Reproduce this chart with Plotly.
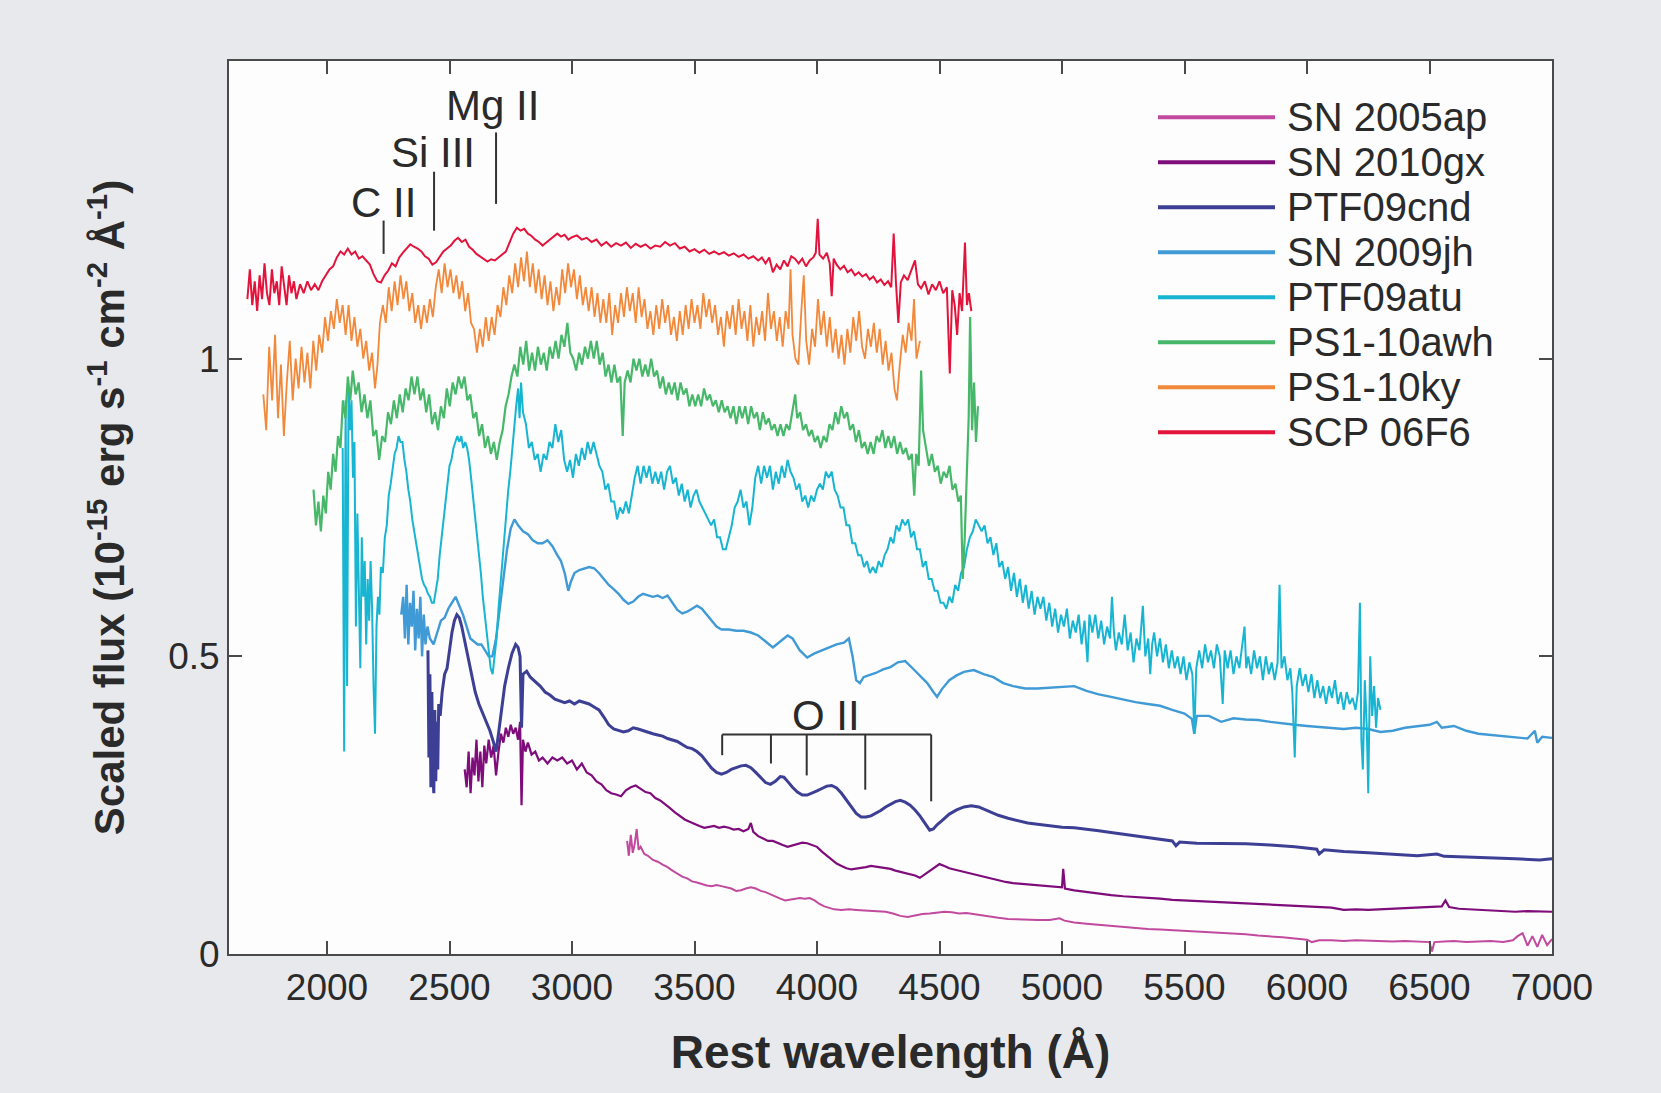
import plotly.graph_objects as go

# ---------------- data (rest wavelength in Angstrom, scaled flux) ----------------
names = ["SN 2005ap", "SN 2010gx", "PTF09cnd", "SN 2009jh",
         "PTF09atu", "PS1-10awh", "PS1-10ky", "SCP 06F6"]
colors = ["#c24a9e", "#7e0c7a", "#3d3f94", "#3f9ad6",
          "#17b5d2", "#47b86a", "#f2883a", "#e3143c"]

sn2005ap = [
    (3225, 0.19), (3232, 0.165), (3240, 0.20), (3248, 0.17), (3256, 0.185), (3264, 0.21),
    (3272, 0.175), (3280, 0.18), (3295, 0.168), (3310, 0.165), (3330, 0.158), (3350, 0.155),
    (3370, 0.15), (3390, 0.146), (3410, 0.14), (3430, 0.135), (3450, 0.13), (3470, 0.127),
    (3490, 0.122), (3510, 0.12), (3530, 0.117), (3550, 0.115), (3570, 0.114), (3590, 0.116),
    (3610, 0.114), (3630, 0.112), (3650, 0.11), (3670, 0.106), (3690, 0.107), (3710, 0.11),
    (3730, 0.112), (3750, 0.11), (3770, 0.106), (3790, 0.104), (3810, 0.10), (3830, 0.096),
    (3850, 0.093), (3870, 0.09), (3890, 0.091), (3910, 0.093), (3930, 0.094), (3950, 0.093),
    (3970, 0.094), (3990, 0.09), (4010, 0.084), (4030, 0.08), (4050, 0.077), (4070, 0.075),
    (4100, 0.074), (4130, 0.075), (4160, 0.074), (4190, 0.073), (4220, 0.073), (4250, 0.072),
    (4280, 0.071), (4310, 0.068), (4340, 0.064), (4370, 0.062), (4400, 0.065), (4430, 0.067),
    (4460, 0.068), (4490, 0.07), (4520, 0.071), (4550, 0.07), (4580, 0.068), (4610, 0.069),
    (4640, 0.067), (4670, 0.065), (4700, 0.063), (4740, 0.061), (4780, 0.059), (4820, 0.058),
    (4860, 0.057), (4900, 0.057), (4950, 0.057), (4990, 0.06), (5010, 0.056), (5050, 0.053),
    (5100, 0.051), (5150, 0.049), (5200, 0.047), (5250, 0.045), (5300, 0.043), (5350, 0.042),
    (5400, 0.041), (5450, 0.04), (5500, 0.038), (5550, 0.037), (5600, 0.036), (5650, 0.036),
    (5700, 0.034), (5750, 0.033), (5800, 0.031), (5850, 0.03), (5900, 0.028), (5950, 0.026),
    (6000, 0.024), (6020, 0.02), (6050, 0.023), (6100, 0.023), (6150, 0.022), (6200, 0.023),
    (6250, 0.022), (6300, 0.022), (6350, 0.021), (6400, 0.022), (6450, 0.021), (6500, 0.02),
    (6510, 0.004), (6520, 0.02), (6560, 0.021), (6600, 0.022), (6650, 0.02), (6700, 0.021),
    (6750, 0.022), (6800, 0.02), (6840, 0.023), (6860, 0.03), (6880, 0.035), (6900, 0.014),
    (6920, 0.03), (6940, 0.012), (6960, 0.032), (6980, 0.015), (7000, 0.025),
]

sn2010gx = [
    (2562, 0.31), (2570, 0.28), (2578, 0.34), (2586, 0.27), (2594, 0.33), (2602, 0.30),
    (2610, 0.36), (2618, 0.29), (2626, 0.34), (2634, 0.28), (2642, 0.35), (2650, 0.32),
    (2660, 0.36), (2670, 0.33), (2680, 0.35), (2690, 0.30), (2700, 0.34), (2710, 0.37),
    (2720, 0.355), (2730, 0.38), (2740, 0.365), (2750, 0.385), (2760, 0.37), (2770, 0.38),
    (2780, 0.36), (2788, 0.39), (2794, 0.25), (2800, 0.36), (2810, 0.34), (2820, 0.355),
    (2835, 0.335), (2850, 0.34), (2865, 0.325), (2880, 0.33), (2900, 0.32), (2920, 0.33),
    (2940, 0.325), (2960, 0.33), (2980, 0.32), (3000, 0.325), (3020, 0.31), (3040, 0.32),
    (3060, 0.305), (3080, 0.30), (3100, 0.29), (3120, 0.285), (3140, 0.275), (3160, 0.27),
    (3180, 0.268), (3200, 0.265), (3220, 0.275), (3240, 0.28), (3260, 0.283), (3280, 0.277),
    (3300, 0.272), (3320, 0.27), (3340, 0.262), (3360, 0.258), (3380, 0.252), (3400, 0.245),
    (3420, 0.238), (3440, 0.232), (3460, 0.226), (3480, 0.222), (3500, 0.218), (3520, 0.215),
    (3540, 0.212), (3560, 0.214), (3580, 0.215), (3600, 0.212), (3620, 0.214), (3640, 0.212),
    (3660, 0.209), (3680, 0.21), (3700, 0.206), (3720, 0.21), (3730, 0.22), (3740, 0.205),
    (3760, 0.198), (3780, 0.194), (3800, 0.19), (3820, 0.19), (3840, 0.186), (3860, 0.183),
    (3880, 0.18), (3900, 0.182), (3920, 0.185), (3940, 0.187), (3960, 0.186), (3980, 0.183),
    (4000, 0.18), (4020, 0.172), (4040, 0.165), (4060, 0.158), (4080, 0.152), (4100, 0.148),
    (4120, 0.144), (4140, 0.142), (4160, 0.143), (4180, 0.145), (4200, 0.146), (4220, 0.148),
    (4240, 0.147), (4260, 0.146), (4280, 0.145), (4300, 0.143), (4320, 0.14), (4340, 0.138),
    (4360, 0.135), (4380, 0.133), (4400, 0.132), (4420, 0.128), (4440, 0.134), (4460, 0.14),
    (4480, 0.146), (4500, 0.151), (4520, 0.148), (4540, 0.144), (4560, 0.142), (4580, 0.14),
    (4600, 0.138), (4620, 0.136), (4650, 0.133), (4680, 0.13), (4710, 0.126), (4740, 0.123),
    (4770, 0.121), (4800, 0.119), (4830, 0.118), (4860, 0.116), (4890, 0.115), (4920, 0.114),
    (4950, 0.113), (4980, 0.112), (5000, 0.112), (5005, 0.143), (5012, 0.11), (5050, 0.107),
    (5100, 0.104), (5150, 0.101), (5200, 0.099), (5250, 0.097), (5300, 0.096), (5350, 0.094),
    (5400, 0.093), (5450, 0.091), (5500, 0.09), (5550, 0.089), (5600, 0.088), (5650, 0.087),
    (5700, 0.086), (5750, 0.085), (5800, 0.084), (5850, 0.083), (5900, 0.082), (5950, 0.081),
    (6000, 0.08), (6050, 0.079), (6100, 0.078), (6150, 0.074), (6200, 0.075), (6250, 0.074),
    (6300, 0.075), (6350, 0.076), (6400, 0.077), (6450, 0.078), (6500, 0.078), (6550, 0.08),
    (6565, 0.09), (6580, 0.079), (6620, 0.076), (6680, 0.075), (6750, 0.073), (6800, 0.072),
    (6850, 0.071), (6900, 0.072), (6950, 0.071), (7000, 0.071),
]

ptf09cnd = [
    (2412, 0.51), (2416, 0.33), (2420, 0.47), (2424, 0.28), (2428, 0.44), (2432, 0.30),
    (2436, 0.27), (2440, 0.41), (2444, 0.29), (2448, 0.39), (2452, 0.31), (2456, 0.42),
    (2462, 0.40), (2470, 0.44), (2480, 0.47), (2490, 0.48),
    (2500, 0.51), (2510, 0.54), (2520, 0.56), (2530, 0.57), (2540, 0.565), (2550, 0.55),
    (2560, 0.53), (2575, 0.50), (2590, 0.47), (2605, 0.44), (2620, 0.42), (2635, 0.405),
    (2650, 0.39), (2665, 0.375), (2680, 0.355), (2690, 0.34), (2700, 0.37), (2712, 0.41),
    (2725, 0.45), (2740, 0.48), (2755, 0.505), (2770, 0.52), (2780, 0.515), (2788, 0.50),
    (2794, 0.38), (2800, 0.47), (2815, 0.475), (2830, 0.465), (2850, 0.458), (2870, 0.45),
    (2890, 0.44), (2910, 0.435), (2930, 0.428), (2950, 0.425), (2970, 0.422), (2990, 0.425),
    (3010, 0.42), (3030, 0.425), (3050, 0.422), (3070, 0.42), (3090, 0.415), (3110, 0.41),
    (3130, 0.398), (3150, 0.385), (3170, 0.378), (3190, 0.375), (3210, 0.373), (3230, 0.375),
    (3250, 0.38), (3270, 0.378), (3290, 0.375), (3310, 0.372), (3330, 0.37), (3350, 0.368),
    (3370, 0.366), (3390, 0.362), (3410, 0.36), (3430, 0.357), (3450, 0.352), (3470, 0.347),
    (3490, 0.345), (3510, 0.34), (3530, 0.333), (3550, 0.322), (3570, 0.312), (3590, 0.305),
    (3610, 0.302), (3630, 0.305), (3650, 0.31), (3670, 0.313), (3690, 0.316), (3710, 0.317),
    (3730, 0.313), (3750, 0.305), (3770, 0.296), (3790, 0.288), (3810, 0.285), (3830, 0.29),
    (3850, 0.298), (3865, 0.297), (3880, 0.29), (3900, 0.28), (3920, 0.272), (3940, 0.267),
    (3960, 0.267), (3980, 0.27), (4000, 0.274), (4020, 0.278), (4040, 0.282), (4060, 0.283),
    (4080, 0.279), (4100, 0.27), (4120, 0.258), (4140, 0.246), (4160, 0.236), (4180, 0.23),
    (4200, 0.23), (4220, 0.232), (4240, 0.236), (4260, 0.241), (4280, 0.247), (4300, 0.252),
    (4320, 0.256), (4340, 0.258), (4360, 0.255), (4380, 0.25), (4400, 0.242), (4420, 0.232),
    (4440, 0.22), (4460, 0.208), (4475, 0.21), (4490, 0.217), (4510, 0.224), (4540, 0.235),
    (4570, 0.242), (4600, 0.247), (4630, 0.249), (4660, 0.247), (4700, 0.24), (4740, 0.233),
    (4780, 0.228), (4820, 0.224), (4860, 0.22), (4900, 0.218), (4950, 0.215), (5000, 0.213),
    (5050, 0.212), (5100, 0.21), (5150, 0.207), (5200, 0.204), (5250, 0.201), (5300, 0.198),
    (5350, 0.196), (5400, 0.193), (5450, 0.19), (5465, 0.182), (5480, 0.188), (5550, 0.186),
    (5650, 0.186), (5750, 0.185), (5850, 0.183), (5950, 0.18), (6040, 0.176), (6050, 0.168),
    (6070, 0.175), (6150, 0.172), (6250, 0.17), (6350, 0.167), (6450, 0.165), (6530, 0.168),
    (6560, 0.164), (6650, 0.163), (6750, 0.162), (6850, 0.16), (6950, 0.158), (7000, 0.16),
]

sn2009jh = [
    (2303, 0.57), (2311, 0.60), (2318, 0.53), (2325, 0.62), (2332, 0.52), (2339, 0.59),
    (2346, 0.55), (2353, 0.61), (2360, 0.51), (2367, 0.58), (2374, 0.53), (2381, 0.60),
    (2388, 0.50), (2395, 0.57), (2402, 0.52), (2410, 0.55), (2420, 0.53),
    (2435, 0.52), (2450, 0.54), (2465, 0.56), (2480, 0.565), (2495, 0.58), (2510, 0.59),
    (2525, 0.60), (2540, 0.585), (2555, 0.57), (2570, 0.55), (2585, 0.53), (2600, 0.525),
    (2615, 0.52), (2630, 0.52), (2645, 0.51), (2660, 0.50), (2675, 0.50), (2690, 0.53),
    (2705, 0.58), (2720, 0.63), (2735, 0.68), (2750, 0.715), (2765, 0.73), (2780, 0.72),
    (2800, 0.71), (2820, 0.705), (2840, 0.695), (2860, 0.69), (2880, 0.69), (2900, 0.695),
    (2920, 0.685), (2940, 0.67), (2955, 0.66), (2970, 0.64), (2985, 0.61), (2995, 0.625),
    (3010, 0.64), (3030, 0.645), (3050, 0.648), (3070, 0.65), (3090, 0.648), (3110, 0.64),
    (3130, 0.63), (3150, 0.62), (3170, 0.613), (3190, 0.605), (3210, 0.595), (3230, 0.588),
    (3250, 0.592), (3270, 0.60), (3290, 0.605), (3310, 0.603), (3330, 0.60), (3350, 0.602),
    (3370, 0.598), (3390, 0.602), (3410, 0.59), (3430, 0.578), (3450, 0.572), (3470, 0.575),
    (3490, 0.58), (3510, 0.585), (3530, 0.58), (3550, 0.57), (3570, 0.56), (3590, 0.55),
    (3610, 0.545), (3640, 0.545), (3670, 0.543), (3700, 0.543), (3730, 0.54), (3760, 0.535),
    (3790, 0.525), (3820, 0.515), (3850, 0.525), (3880, 0.535), (3900, 0.53), (3930, 0.51),
    (3960, 0.498), (3990, 0.505), (4020, 0.51), (4050, 0.515), (4080, 0.52), (4110, 0.523),
    (4130, 0.53), (4145, 0.50), (4160, 0.46), (4175, 0.455), (4190, 0.465), (4210, 0.468),
    (4240, 0.472), (4270, 0.478), (4300, 0.482), (4330, 0.49), (4360, 0.492), (4390, 0.48),
    (4420, 0.468), (4450, 0.455), (4475, 0.44), (4490, 0.432), (4510, 0.445), (4540, 0.46),
    (4570, 0.468), (4600, 0.474), (4640, 0.477), (4680, 0.47), (4720, 0.465), (4760, 0.455),
    (4800, 0.45), (4850, 0.446), (4900, 0.446), (4950, 0.447), (5000, 0.448), (5050, 0.45),
    (5100, 0.442), (5150, 0.436), (5200, 0.432), (5250, 0.427), (5300, 0.423), (5350, 0.42),
    (5400, 0.417), (5450, 0.41), (5500, 0.404), (5530, 0.395), (5540, 0.37), (5550, 0.40),
    (5600, 0.40), (5650, 0.39), (5700, 0.396), (5750, 0.394), (5800, 0.393), (5850, 0.39),
    (5900, 0.387), (5950, 0.385), (6000, 0.383), (6050, 0.381), (6100, 0.38), (6150, 0.378),
    (6200, 0.38), (6250, 0.378), (6300, 0.373), (6350, 0.375), (6400, 0.38), (6450, 0.382),
    (6500, 0.385), (6530, 0.39), (6550, 0.38), (6600, 0.383), (6650, 0.375), (6700, 0.37),
    (6750, 0.368), (6800, 0.366), (6850, 0.364), (6900, 0.362), (6930, 0.375), (6940, 0.355),
    (6960, 0.365), (7000, 0.363),
]

ptf09atu = [
    (2064, 0.85), (2070, 0.34), (2076, 0.93), (2082, 0.45), (2088, 0.95), (2094, 0.88),
    (2100, 0.93), (2106, 0.80), (2112, 0.86), (2118, 0.55), (2124, 0.74), (2130, 0.62),
    (2136, 0.48), (2142, 0.70), (2148, 0.60), (2154, 0.66), (2160, 0.52), (2166, 0.63),
    (2172, 0.56), (2178, 0.66), (2184, 0.58), (2190, 0.45), (2196, 0.37), (2202, 0.55),
    (2208, 0.60), (2214, 0.57), (2220, 0.65), (2228, 0.64), (2236, 0.70), (2244, 0.72),
    (2252, 0.77), (2260, 0.79), (2268, 0.82), (2276, 0.84), (2284, 0.85), (2292, 0.87),
    (2300, 0.86), (2308, 0.86), (2316, 0.83), (2324, 0.81), (2332, 0.78), (2340, 0.76),
    (2348, 0.73), (2356, 0.71), (2364, 0.69), (2372, 0.67), (2380, 0.65), (2388, 0.63),
    (2396, 0.62), (2404, 0.615), (2412, 0.605), (2420, 0.60), (2428, 0.59), (2436, 0.59),
    (2444, 0.61), (2452, 0.63), (2460, 0.67), (2468, 0.70), (2476, 0.73), (2484, 0.76),
    (2492, 0.79), (2500, 0.82), (2508, 0.83), (2516, 0.85), (2524, 0.86), (2532, 0.87),
    (2540, 0.86), (2548, 0.87), (2556, 0.85), (2564, 0.86), (2572, 0.85), (2580, 0.83),
    (2588, 0.80), (2596, 0.77), (2604, 0.74), (2612, 0.71), (2620, 0.67), (2628, 0.64),
    (2636, 0.60), (2644, 0.57), (2652, 0.53), (2660, 0.50), (2668, 0.48), (2676, 0.47),
    (2684, 0.50), (2692, 0.53), (2700, 0.58), (2708, 0.62), (2716, 0.66), (2724, 0.71),
    (2732, 0.74), (2740, 0.78), (2748, 0.81), (2756, 0.85), (2764, 0.88), (2772, 0.92),
    (2780, 0.95), (2786, 0.90), (2792, 0.96), (2800, 0.91), (2812, 0.89), (2824, 0.85),
    (2836, 0.86), (2848, 0.83), (2860, 0.84), (2872, 0.81), (2884, 0.84), (2896, 0.83),
    (2908, 0.86), (2920, 0.85), (2932, 0.89), (2944, 0.86), (2956, 0.88), (2968, 0.83),
    (2980, 0.81), (2992, 0.83), (3004, 0.80), (3016, 0.84), (3028, 0.82), (3040, 0.85),
    (3052, 0.83), (3064, 0.86), (3076, 0.84), (3088, 0.86), (3100, 0.84), (3112, 0.82),
    (3124, 0.81), (3136, 0.78), (3148, 0.79), (3160, 0.76), (3172, 0.76), (3184, 0.73),
    (3196, 0.75), (3208, 0.74), (3220, 0.76), (3232, 0.74), (3244, 0.77), (3256, 0.80),
    (3268, 0.82), (3280, 0.79), (3292, 0.82), (3304, 0.80), (3316, 0.82), (3328, 0.79),
    (3340, 0.81), (3352, 0.79), (3364, 0.81), (3376, 0.78), (3388, 0.81), (3400, 0.82),
    (3412, 0.79), (3424, 0.80), (3436, 0.77), (3448, 0.79), (3460, 0.76), (3472, 0.78),
    (3484, 0.75), (3496, 0.77), (3508, 0.78), (3520, 0.76), (3532, 0.75), (3544, 0.74),
    (3556, 0.73), (3568, 0.72), (3580, 0.73), (3592, 0.70), (3604, 0.70), (3616, 0.68),
    (3628, 0.68), (3640, 0.70), (3652, 0.72), (3664, 0.75), (3676, 0.76), (3688, 0.78),
    (3700, 0.75), (3712, 0.76), (3724, 0.72), (3736, 0.75), (3748, 0.80), (3760, 0.82),
    (3772, 0.79), (3784, 0.82), (3796, 0.80), (3808, 0.82), (3820, 0.78), (3832, 0.81),
    (3844, 0.79), (3856, 0.82), (3868, 0.80), (3880, 0.83), (3892, 0.81), (3904, 0.80),
    (3916, 0.78), (3928, 0.79), (3940, 0.76), (3952, 0.77), (3964, 0.75), (3976, 0.77),
    (3988, 0.76), (4000, 0.78), (4012, 0.79), (4024, 0.78), (4036, 0.81), (4048, 0.80),
    (4060, 0.81), (4072, 0.78), (4084, 0.77), (4096, 0.75), (4108, 0.75), (4120, 0.72),
    (4132, 0.72), (4144, 0.69), (4156, 0.69), (4168, 0.67), (4180, 0.67), (4192, 0.65),
    (4204, 0.66), (4216, 0.64), (4228, 0.65), (4240, 0.64), (4252, 0.66), (4264, 0.65),
    (4276, 0.67), (4288, 0.68), (4300, 0.70), (4312, 0.69), (4324, 0.72), (4336, 0.71),
    (4348, 0.73), (4360, 0.72), (4372, 0.73), (4384, 0.70), (4396, 0.71), (4408, 0.68),
    (4420, 0.68), (4432, 0.65), (4444, 0.66), (4456, 0.63), (4468, 0.63), (4480, 0.61),
    (4492, 0.61), (4504, 0.59), (4516, 0.59), (4528, 0.58), (4540, 0.60), (4552, 0.59),
    (4564, 0.62), (4576, 0.61), (4588, 0.64), (4600, 0.65), (4612, 0.68), (4624, 0.70),
    (4636, 0.71), (4648, 0.73), (4660, 0.72), (4672, 0.71), (4684, 0.72), (4696, 0.69),
    (4708, 0.70), (4720, 0.67), (4732, 0.69), (4744, 0.65), (4756, 0.66), (4768, 0.63),
    (4780, 0.65), (4792, 0.61), (4804, 0.64), (4816, 0.60), (4828, 0.63), (4840, 0.59),
    (4852, 0.62), (4864, 0.58), (4876, 0.61), (4888, 0.57), (4900, 0.60), (4912, 0.58),
    (4924, 0.60), (4936, 0.56), (4948, 0.59), (4960, 0.55), (4972, 0.58), (4984, 0.54),
    (4996, 0.57), (5008, 0.55), (5020, 0.58), (5032, 0.53), (5044, 0.56), (5056, 0.54),
    (5068, 0.57), (5080, 0.52), (5092, 0.56), (5104, 0.49), (5112, 0.57), (5124, 0.54),
    (5136, 0.57), (5148, 0.53), (5160, 0.56), (5172, 0.52), (5184, 0.55), (5196, 0.53),
    (5204, 0.60), (5212, 0.54), (5220, 0.51), (5232, 0.54), (5244, 0.52), (5256, 0.57),
    (5268, 0.51), (5280, 0.54), (5292, 0.49), (5304, 0.53), (5316, 0.51), (5330, 0.585),
    (5340, 0.50), (5352, 0.53), (5360, 0.47), (5368, 0.52), (5376, 0.54), (5388, 0.50),
    (5400, 0.53), (5412, 0.49), (5424, 0.52), (5436, 0.48), (5448, 0.51), (5460, 0.48),
    (5472, 0.50), (5484, 0.47), (5496, 0.50), (5508, 0.46), (5520, 0.49), (5532, 0.47),
    (5540, 0.37), (5548, 0.48), (5560, 0.51), (5572, 0.48), (5584, 0.52), (5596, 0.49),
    (5608, 0.51), (5620, 0.48), (5632, 0.52), (5644, 0.50), (5656, 0.42), (5664, 0.51),
    (5676, 0.48), (5688, 0.51), (5700, 0.47), (5712, 0.50), (5724, 0.48), (5736, 0.52),
    (5745, 0.55), (5752, 0.48), (5760, 0.50), (5772, 0.47), (5784, 0.51), (5796, 0.48),
    (5808, 0.50), (5820, 0.46), (5832, 0.50), (5844, 0.47), (5856, 0.49), (5868, 0.46),
    (5880, 0.49), (5888, 0.62), (5896, 0.48), (5908, 0.50), (5920, 0.46), (5932, 0.48),
    (5940, 0.44), (5950, 0.33), (5958, 0.45), (5970, 0.48), (5982, 0.45), (5994, 0.47),
    (6006, 0.44), (6018, 0.47), (6030, 0.43), (6042, 0.46), (6054, 0.43), (6066, 0.45),
    (6078, 0.42), (6090, 0.45), (6102, 0.43), (6114, 0.46), (6126, 0.42), (6138, 0.44),
    (6150, 0.41), (6162, 0.44), (6174, 0.42), (6186, 0.43), (6198, 0.41), (6208, 0.44),
    (6216, 0.59), (6222, 0.36), (6228, 0.31), (6236, 0.46), (6244, 0.38), (6250, 0.27),
    (6258, 0.50), (6266, 0.40), (6274, 0.45), (6282, 0.38), (6290, 0.43), (6300, 0.41),
]

ps1_10awh = [
    (1945, 0.78), (1955, 0.72), (1965, 0.76), (1975, 0.71), (1985, 0.77), (1995, 0.74),
    (2005, 0.81), (2015, 0.78), (2025, 0.84), (2035, 0.81), (2045, 0.87), (2055, 0.85),
    (2065, 0.93), (2075, 0.90), (2085, 0.97), (2095, 0.93), (2105, 0.98), (2117, 0.94),
    (2129, 0.96), (2141, 0.91), (2153, 0.94), (2165, 0.90), (2177, 0.93), (2189, 0.87),
    (2201, 0.88), (2213, 0.83), (2225, 0.87), (2237, 0.86), (2249, 0.91), (2261, 0.89),
    (2273, 0.93), (2285, 0.90), (2297, 0.94), (2309, 0.91), (2321, 0.95), (2333, 0.93),
    (2345, 0.97), (2357, 0.94), (2369, 0.97), (2381, 0.93), (2393, 0.95), (2405, 0.91),
    (2417, 0.94), (2429, 0.89), (2441, 0.91), (2453, 0.88), (2465, 0.92), (2477, 0.90),
    (2489, 0.95), (2501, 0.92), (2513, 0.96), (2525, 0.94), (2537, 0.97), (2549, 0.95),
    (2561, 0.97), (2573, 0.93), (2585, 0.94), (2597, 0.90), (2609, 0.91), (2621, 0.87),
    (2633, 0.89), (2645, 0.85), (2657, 0.87), (2669, 0.84), (2681, 0.86), (2693, 0.83),
    (2705, 0.86), (2717, 0.88), (2729, 0.92), (2741, 0.94), (2753, 0.97), (2765, 0.99),
    (2777, 0.97), (2789, 1.02), (2801, 0.99), (2813, 1.03), (2825, 0.98), (2837, 1.01),
    (2849, 0.98), (2861, 1.02), (2873, 0.99), (2885, 1.01), (2897, 0.98), (2909, 1.02),
    (2921, 1.00), (2933, 1.03), (2945, 1.00), (2957, 1.04), (2969, 1.02), (2981, 1.06),
    (2993, 1.01), (3005, 1.00), (3017, 0.98), (3029, 1.01), (3041, 0.99), (3053, 1.02),
    (3065, 1.00), (3077, 1.03), (3089, 1.00), (3101, 1.03), (3113, 0.99), (3125, 1.01),
    (3137, 0.97), (3149, 0.99), (3161, 0.96), (3173, 0.99), (3185, 0.96), (3197, 0.97),
    (3207, 0.87), (3215, 0.96), (3227, 0.98), (3239, 0.96), (3251, 1.00), (3263, 0.98),
    (3275, 1.00), (3287, 0.97), (3299, 0.99), (3311, 0.97), (3323, 1.00), (3335, 0.97),
    (3347, 0.98), (3359, 0.95), (3371, 0.97), (3383, 0.94), (3395, 0.96), (3407, 0.94),
    (3419, 0.96), (3431, 0.93), (3443, 0.96), (3455, 0.94), (3467, 0.95), (3479, 0.92),
    (3491, 0.94), (3503, 0.92), (3515, 0.94), (3527, 0.92), (3539, 0.95), (3551, 0.93),
    (3563, 0.94), (3575, 0.92), (3587, 0.93), (3599, 0.91), (3611, 0.93), (3623, 0.91),
    (3635, 0.92), (3647, 0.90), (3659, 0.92), (3671, 0.89), (3683, 0.92), (3695, 0.90),
    (3707, 0.92), (3719, 0.89), (3731, 0.92), (3743, 0.90), (3755, 0.91), (3767, 0.88),
    (3779, 0.91), (3791, 0.89), (3803, 0.90), (3815, 0.88), (3827, 0.89), (3839, 0.87),
    (3851, 0.89), (3863, 0.87), (3875, 0.89), (3887, 0.88), (3899, 0.91), (3911, 0.94),
    (3919, 0.90), (3931, 0.91), (3943, 0.88), (3955, 0.89), (3967, 0.87), (3979, 0.88),
    (3991, 0.86), (4003, 0.87), (4015, 0.85), (4027, 0.87), (4039, 0.86), (4051, 0.89),
    (4063, 0.88), (4075, 0.91), (4087, 0.89), (4099, 0.92), (4111, 0.90), (4123, 0.91),
    (4135, 0.88), (4147, 0.89), (4159, 0.86), (4171, 0.88), (4183, 0.85), (4195, 0.86),
    (4207, 0.84), (4219, 0.86), (4231, 0.84), (4243, 0.87), (4255, 0.86), (4267, 0.88),
    (4279, 0.85), (4291, 0.87), (4303, 0.85), (4315, 0.87), (4327, 0.84), (4339, 0.86),
    (4351, 0.84), (4363, 0.85), (4375, 0.83), (4387, 0.84), (4397, 0.77), (4405, 0.84),
    (4415, 0.82), (4425, 0.98), (4433, 0.88), (4445, 0.85), (4457, 0.82), (4469, 0.84),
    (4481, 0.81), (4493, 0.82), (4505, 0.79), (4517, 0.81), (4529, 0.80), (4541, 0.82),
    (4553, 0.78), (4565, 0.79), (4577, 0.76), (4587, 0.77), (4595, 0.63), (4603, 0.70),
    (4611, 0.82), (4619, 0.90), (4625, 1.07), (4633, 0.88), (4641, 0.96), (4649, 0.86),
    (4657, 0.92),
]

ps1_10ky = [
    (1740, 0.94), (1752, 0.88), (1764, 1.02), (1776, 0.93), (1788, 1.04), (1800, 0.90),
    (1812, 0.99), (1824, 0.87), (1836, 0.96), (1848, 1.03), (1860, 0.93), (1872, 1.00),
    (1884, 0.95), (1896, 1.02), (1908, 0.96), (1920, 1.01), (1932, 0.95), (1944, 1.03),
    (1956, 0.98), (1968, 1.04), (1980, 1.01), (1992, 1.07), (2004, 1.03), (2016, 1.08),
    (2028, 1.05), (2040, 1.10), (2052, 1.06), (2064, 1.09), (2076, 1.04), (2088, 1.09),
    (2100, 1.03), (2112, 1.07), (2124, 1.02), (2136, 1.05), (2148, 1.00), (2160, 1.03),
    (2172, 0.98), (2184, 1.01), (2196, 0.95), (2206, 0.99), (2216, 1.06), (2228, 1.09),
    (2240, 1.06), (2252, 1.12), (2264, 1.08), (2276, 1.13), (2288, 1.09), (2300, 1.14),
    (2312, 1.10), (2324, 1.13), (2336, 1.08), (2348, 1.11), (2360, 1.06), (2372, 1.09),
    (2384, 1.05), (2396, 1.09), (2408, 1.06), (2420, 1.10), (2432, 1.07), (2444, 1.12),
    (2456, 1.15), (2468, 1.11), (2480, 1.16), (2492, 1.12), (2504, 1.15), (2516, 1.11),
    (2528, 1.14), (2540, 1.10), (2552, 1.13), (2564, 1.08), (2576, 1.11), (2588, 1.06),
    (2600, 1.05), (2612, 1.01), (2624, 1.05), (2636, 1.02), (2648, 1.07), (2660, 1.03),
    (2672, 1.07), (2684, 1.04), (2696, 1.09), (2708, 1.07), (2720, 1.12), (2732, 1.09),
    (2744, 1.14), (2756, 1.11), (2768, 1.16), (2780, 1.12), (2792, 1.17), (2804, 1.13),
    (2816, 1.18), (2828, 1.12), (2840, 1.16), (2852, 1.11), (2864, 1.15), (2876, 1.10),
    (2888, 1.14), (2900, 1.09), (2912, 1.13), (2924, 1.08), (2936, 1.12), (2948, 1.09),
    (2960, 1.15), (2972, 1.11), (2984, 1.16), (2996, 1.12), (3008, 1.15), (3020, 1.10),
    (3032, 1.14), (3044, 1.09), (3056, 1.12), (3068, 1.08), (3080, 1.12), (3092, 1.07),
    (3104, 1.11), (3116, 1.06), (3128, 1.10), (3140, 1.06), (3152, 1.11), (3164, 1.04),
    (3176, 1.09), (3188, 1.06), (3200, 1.11), (3212, 1.07), (3224, 1.12), (3236, 1.08),
    (3248, 1.11), (3260, 1.06), (3272, 1.12), (3284, 1.07), (3296, 1.10), (3308, 1.05),
    (3320, 1.08), (3332, 1.04), (3344, 1.09), (3356, 1.05), (3368, 1.10), (3380, 1.06),
    (3392, 1.09), (3404, 1.04), (3416, 1.07), (3428, 1.03), (3440, 1.08), (3452, 1.04),
    (3464, 1.09), (3476, 1.05), (3488, 1.10), (3500, 1.06), (3512, 1.09), (3524, 1.05),
    (3536, 1.11), (3548, 1.07), (3560, 1.10), (3572, 1.06), (3584, 1.09), (3596, 1.04),
    (3608, 1.07), (3620, 1.02), (3632, 1.08), (3644, 1.05), (3656, 1.09), (3668, 1.04),
    (3680, 1.10), (3692, 1.05), (3704, 1.08), (3716, 1.03), (3728, 1.09), (3740, 1.02),
    (3752, 1.07), (3764, 1.04), (3776, 1.08), (3788, 1.03), (3800, 1.11), (3812, 1.05),
    (3824, 1.08), (3836, 1.03), (3848, 1.07), (3860, 1.02), (3872, 1.08), (3884, 1.05),
    (3892, 1.15), (3900, 1.04), (3912, 1.00), (3924, 0.99), (3936, 1.08), (3946, 1.14),
    (3956, 1.03), (3968, 0.99), (3980, 1.05), (3992, 1.02), (4004, 1.10), (4016, 1.04),
    (4028, 1.08), (4040, 1.02), (4052, 1.07), (4064, 1.01), (4076, 1.05), (4088, 1.00),
    (4100, 1.04), (4112, 0.99), (4124, 1.05), (4136, 1.01), (4148, 1.07), (4160, 1.03),
    (4172, 1.08), (4184, 1.02), (4196, 1.00), (4208, 1.05), (4220, 1.02), (4232, 1.06),
    (4244, 1.01), (4256, 1.05), (4268, 0.99), (4280, 1.03), (4292, 0.98), (4304, 1.01),
    (4316, 0.95), (4326, 0.93), (4338, 0.99), (4350, 1.04), (4362, 1.01), (4374, 1.06),
    (4386, 1.03), (4396, 1.10), (4406, 1.00), (4420, 1.03),
]

scp06f6 = [
    (1675, 1.10), (1685, 1.15), (1695, 1.09), (1705, 1.13), (1715, 1.08), (1725, 1.14),
    (1735, 1.10), (1745, 1.16), (1755, 1.11), (1765, 1.09), (1775, 1.15), (1785, 1.11),
    (1795, 1.13), (1805, 1.09), (1815, 1.155), (1825, 1.12), (1835, 1.09), (1845, 1.14),
    (1855, 1.11), (1865, 1.13), (1875, 1.10), (1890, 1.125), (1905, 1.11), (1920, 1.13),
    (1935, 1.115), (1950, 1.125), (1965, 1.115), (1980, 1.13), (1995, 1.14), (2010, 1.15),
    (2025, 1.155), (2040, 1.17), (2055, 1.18), (2070, 1.175), (2085, 1.185), (2100, 1.175),
    (2115, 1.18), (2130, 1.168), (2145, 1.172), (2160, 1.165), (2175, 1.158), (2190, 1.142),
    (2205, 1.13), (2220, 1.128), (2235, 1.14), (2250, 1.148), (2265, 1.16), (2280, 1.155),
    (2295, 1.17), (2310, 1.178), (2325, 1.185), (2340, 1.192), (2355, 1.188), (2370, 1.185),
    (2385, 1.18), (2400, 1.172), (2415, 1.168), (2430, 1.158), (2445, 1.162), (2460, 1.17),
    (2475, 1.18), (2490, 1.185), (2505, 1.19), (2520, 1.198), (2535, 1.203), (2550, 1.196),
    (2565, 1.20), (2580, 1.188), (2595, 1.183), (2610, 1.176), (2625, 1.172), (2640, 1.168),
    (2655, 1.163), (2670, 1.167), (2685, 1.165), (2700, 1.17), (2715, 1.175), (2730, 1.18),
    (2745, 1.195), (2760, 1.21), (2775, 1.22), (2790, 1.215), (2805, 1.218), (2820, 1.21),
    (2835, 1.206), (2850, 1.20), (2865, 1.196), (2880, 1.19), (2895, 1.195), (2910, 1.20),
    (2925, 1.206), (2940, 1.21), (2955, 1.205), (2970, 1.208), (2985, 1.20), (3000, 1.204),
    (3020, 1.207), (3040, 1.20), (3060, 1.203), (3080, 1.196), (3100, 1.20), (3120, 1.19),
    (3140, 1.196), (3160, 1.188), (3180, 1.194), (3200, 1.19), (3220, 1.195), (3240, 1.186),
    (3260, 1.193), (3280, 1.188), (3300, 1.192), (3320, 1.185), (3340, 1.19), (3360, 1.188),
    (3380, 1.196), (3400, 1.19), (3420, 1.194), (3440, 1.185), (3460, 1.188), (3480, 1.18),
    (3500, 1.184), (3520, 1.178), (3540, 1.183), (3560, 1.176), (3580, 1.18), (3600, 1.175),
    (3620, 1.179), (3640, 1.173), (3660, 1.177), (3680, 1.171), (3700, 1.175), (3720, 1.168),
    (3740, 1.172), (3760, 1.165), (3775, 1.17), (3790, 1.16), (3805, 1.17), (3820, 1.145),
    (3835, 1.158), (3850, 1.15), (3865, 1.165), (3880, 1.155), (3895, 1.172), (3910, 1.168),
    (3925, 1.16), (3940, 1.168), (3955, 1.155), (3970, 1.165), (3985, 1.17), (3995, 1.178),
    (4003, 1.235), (4010, 1.175), (4025, 1.168), (4040, 1.178), (4052, 1.16), (4060, 1.105),
    (4068, 1.168), (4080, 1.158), (4095, 1.15), (4110, 1.156), (4125, 1.145), (4140, 1.15),
    (4155, 1.14), (4170, 1.145), (4185, 1.138), (4200, 1.142), (4215, 1.133), (4230, 1.138),
    (4245, 1.128), (4260, 1.133), (4275, 1.124), (4290, 1.13), (4303, 1.12), (4313, 1.21),
    (4322, 1.13), (4332, 1.06), (4342, 1.128), (4355, 1.14), (4370, 1.132), (4385, 1.15),
    (4400, 1.165), (4412, 1.125), (4425, 1.118), (4440, 1.13), (4455, 1.108), (4470, 1.125),
    (4485, 1.115), (4500, 1.13), (4515, 1.11), (4530, 1.12), (4542, 0.975), (4552, 1.115),
    (4562, 1.09), (4572, 1.04), (4582, 1.11), (4592, 1.08), (4604, 1.195), (4612, 1.09),
    (4620, 1.11), (4630, 1.08),
]

# line identifications: (label, wavelength, tick bottom, tick top, label y)
uv_lines = [("C II", 2231, 1.176, 1.232, 1.262),
            ("Si III", 2437, 1.215, 1.314, 1.346),
            ("Mg II", 2690, 1.260, 1.380, 1.426)]
uv_label_wl = [2229, 2434, 2674]
o2_wl = [3613, 3812, 3958, 4197, 4466]
o2_bottom = [0.334, 0.320, 0.300, 0.276, 0.2565]
o2_bar = 0.3685
o2_label = ("O II", 4037, 0.401)

x_ticks = [2000, 2500, 3000, 3500, 4000, 4500, 5000, 5500, 6000, 6500, 7000]
y_ticks = [0, 0.5, 1]
y_tick_text = ["0", "0.5", "1"]

# ---------------- figure ----------------
FONT = "Liberation Sans, Arial, Helvetica, sans-serif"
INK = "#2a2a2a"
AXIS = "#4a4a4a"

series = [sn2005ap, sn2010gx, ptf09cnd, sn2009jh, ptf09atu, ps1_10awh, ps1_10ky, scp06f6]
widths = [2, 2.2, 3, 2.4, 2, 2.2, 1.8, 2]
draw_order = [0, 1, 3, 2, 4, 5, 6, 7]

fig = go.Figure()
for i in draw_order:
    s = series[i]
    fig.add_trace(go.Scatter(
        x=[p[0] for p in s], y=[p[1] for p in s], mode="lines", name=names[i],
        line=dict(color=colors[i], width=widths[i], shape="linear"),
        showlegend=False, hoverinfo="x+y+name"))

shapes = []
annotations = []
# UV line markers
for (lab, wl, lo, hi, ly), lx in zip(uv_lines, uv_label_wl):
    shapes.append(dict(type="line", xref="x", yref="y", x0=wl, x1=wl, y0=lo, y1=hi,
                       line=dict(color="#333333", width=2)))
    annotations.append(dict(x=lx, y=ly, xref="x", yref="y", text=lab, showarrow=False,
                            xanchor="center", yanchor="middle",
                            font=dict(family=FONT, size=42, color=INK)))
# O II bracket
shapes.append(dict(type="line", xref="x", yref="y", x0=o2_wl[0], x1=o2_wl[-1], y0=o2_bar, y1=o2_bar,
                   line=dict(color="#333333", width=2)))
for wl, b in zip(o2_wl, o2_bottom):
    shapes.append(dict(type="line", xref="x", yref="y", x0=wl, x1=wl, y0=b, y1=o2_bar,
                       line=dict(color="#333333", width=2)))
annotations.append(dict(x=o2_label[1], y=o2_label[2], xref="x", yref="y", text=o2_label[0],
                        showarrow=False, xanchor="center", yanchor="middle",
                        font=dict(family=FONT, size=42, color=INK)))

# legend (key lines + labels in the upper right of the axes)
W, H = 1661, 1093
L, R, T, B = 229, 109, 61, 139
pw, ph = W - L - R, H - T - B
def px2paper(px, py):
    return (px - L) / pw, (H - B - py) / ph
for k, nm in enumerate(names):
    yk = 117.3 + 45.0 * k
    x0, y0 = px2paper(1158, yk)
    x1, _ = px2paper(1275, yk)
    xt, _ = px2paper(1285, yk)
    shapes.append(dict(type="line", xref="paper", yref="paper", x0=x0, x1=x1, y0=y0, y1=y0,
                       line=dict(color=colors[k], width=4)))
    annotations.append(dict(x=xt, y=y0, xref="paper", yref="paper", text=nm, showarrow=False,
                            xanchor="left", yanchor="middle",
                            font=dict(family=FONT, size=40, color=INK)))

fig.update_layout(
    width=W, height=H,
    margin=dict(l=L, r=R, t=T, b=B, pad=0),
    paper_bgcolor="#e7e9ec",
    plot_bgcolor="#fdfdfd",
    font=dict(family=FONT, color=INK),
    shapes=shapes,
    annotations=annotations,
    showlegend=False,
)
fig.update_xaxes(
    range=[1600, 7000], tickmode="array", tickvals=x_ticks,
    ticks="inside", ticklen=13, tickwidth=2, tickcolor=AXIS,
    showline=True, linecolor=AXIS, linewidth=2, mirror="ticks",
    showgrid=False, zeroline=False,
    tickfont=dict(family=FONT, size=37, color=INK),
    title=dict(text="<b>Rest wavelength (Å)</b>", font=dict(family=FONT, size=46, color=INK), standoff=28),
)
fig.update_yaxes(
    range=[0, 1.5], tickmode="array", tickvals=y_ticks, ticktext=y_tick_text,
    ticks="inside", ticklen=13, tickwidth=2, tickcolor=AXIS,
    showline=True, linecolor=AXIS, linewidth=2, mirror="ticks",
    showgrid=False, zeroline=False,
    tickfont=dict(family=FONT, size=37, color=INK),
    title=dict(text="<b>Scaled flux (10<sup>-15</sup> erg s<sup>-1</sup> cm<sup>-2</sup> Å<sup>-1</sup>)</b>",
               font=dict(family=FONT, size=42, color=INK), standoff=30),
)

fig.write_html("out.html")
